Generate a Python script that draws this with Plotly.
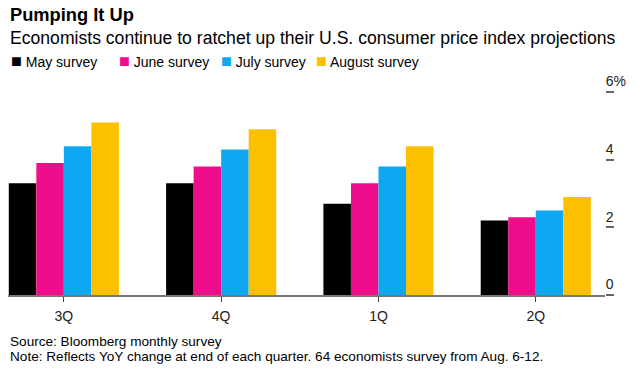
import plotly.graph_objects as go

categories = ["3Q", "4Q", "1Q", "2Q"]
series_names = ["May survey", "June survey", "July survey", "August survey"]
may = [3.3, 3.3, 2.7, 2.2]
june = [3.9, 3.8, 3.3, 2.3]
july = [4.4, 4.3, 3.8, 2.5]
august = [5.1, 4.9, 4.4, 2.9]
colors = ["#000000", "#ee0e8c", "#0ea8f2", "#fdc000"]
y_ticks = [0, 2, 4, 6]
y_tick_labels = ["0", "2", "4", "6%"]

W, H = 637, 371
ML, MR, MT, MB = 8, 32, 92, 76
PW, PH = W - ML - MR, H - MT - MB
FONT = "Liberation Sans, Arial, sans-serif"


def py(ypix):
    return (H - MB - ypix) / PH


def px(xpix):
    return (xpix - ML) / PW


fig = go.Figure()
for name, vals, col in zip(series_names, [may, june, july, august], colors):
    fig.add_trace(go.Bar(x=categories, y=vals, name=name, marker_color=col,
                         marker_line_width=0, showlegend=False))

annotations = [
    dict(text="<b>Pumping It Up</b>", x=px(8), y=py(15), xref="paper", yref="paper",
         xanchor="left", yanchor="middle", showarrow=False,
         font=dict(family=FONT, size=18.3, color="#000")),
    dict(text="Economists continue to ratchet up their U.S. consumer price index projections",
         x=px(8), y=py(38), xref="paper", yref="paper", xanchor="left", yanchor="middle",
         showarrow=False, font=dict(family=FONT, size=17.6, color="#000")),
    dict(text="Source: Bloomberg monthly survey", x=px(8), y=py(341), xref="paper", yref="paper",
         xanchor="left", yanchor="middle", showarrow=False,
         font=dict(family=FONT, size=13.6, color="#000")),
    dict(text="Note: Reflects YoY change at end of each quarter. 64 economists survey from Aug. 6-12.",
         x=px(8), y=py(356), xref="paper", yref="paper", xanchor="left", yanchor="middle",
         showarrow=False, font=dict(family=FONT, size=13.6, color="#000")),
]

legend_x = [9, 117, 219, 314]
for name, col, lx in zip(series_names, colors, legend_x):
    annotations.append(dict(
        text=f'<span style="color:{col};font-size:18px">■</span> {name}', x=px(lx), y=py(61),
        xref="paper", yref="paper", xanchor="left", yanchor="middle", showarrow=False,
        font=dict(family=FONT, size=14, color="#000")))

fig.update_layout(
    width=W, height=H,
    margin=dict(l=ML, r=MR, t=MT, b=MB),
    paper_bgcolor="white", plot_bgcolor="white",
    barmode="group", bargap=0.30, bargroupgap=0,
    showlegend=False,
    annotations=annotations,
    font=dict(family=FONT, size=13, color="#222"),
    xaxis=dict(type="category", range=[-0.355, 3.44], showgrid=False, showline=True,
               linecolor="#777", linewidth=1.5, ticks="outside", ticklen=5, tickcolor="#444",
               ticklabelstandoff=2,
               tickfont=dict(family=FONT, size=14, color="#222"), zeroline=False, fixedrange=True),
    yaxis=dict(range=[0, 6], side="right", tickvals=y_ticks, ticktext=y_tick_labels,
               showgrid=False, zeroline=False, showline=False, ticks="outside", ticklen=8,
               tickcolor="#666", tickwidth=1.5, ticklabelposition="outside top",
               ticklabelstandoff=-3, fixedrange=True,
               tickfont=dict(family=FONT, size=14, color="#222")),
)

fig.write_html("out.html", post_script="document.body.style.margin='0';",
               config={"displayModeBar": False})
